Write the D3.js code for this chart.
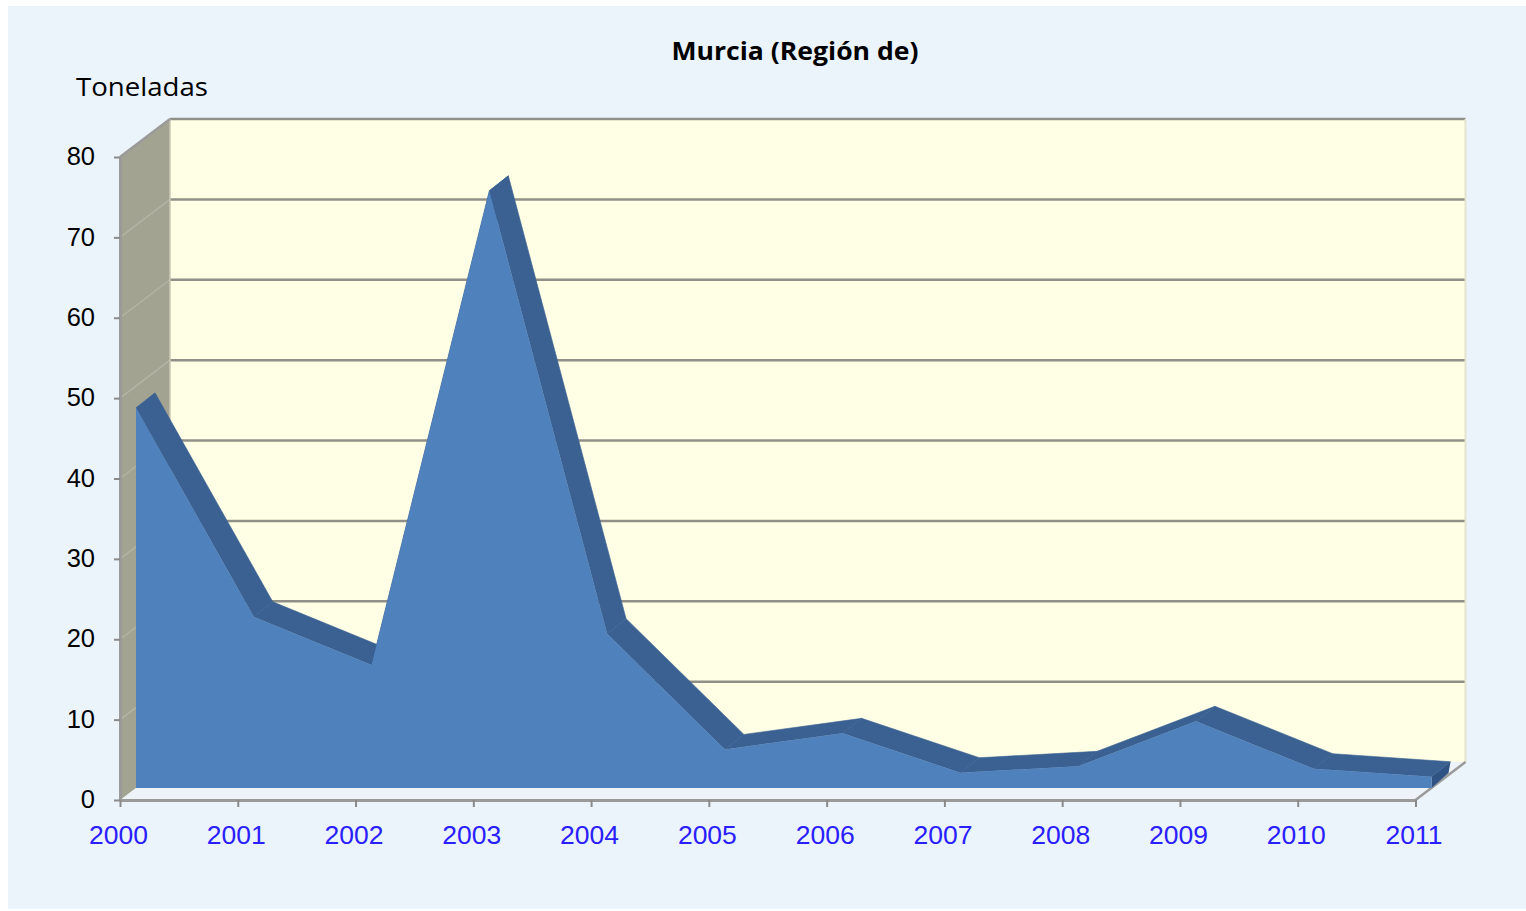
<!DOCTYPE html>
<html><head><meta charset="utf-8">
<script src="https://cdnjs.cloudflare.com/ajax/libs/d3/7.8.5/d3.min.js"></script>
<style>html,body{margin:0;padding:0;background:#fff}svg{display:block}</style></head>
<body><svg id="c" width="1526" height="911"></svg>
<script>
const years = [2000,2001,2002,2003,2004,2005,2006,2007,2008,2009,2010,2011];
const tons = [47.3,21.3,15.3,74.3,19.2,4.8,6.8,1.9,2.7,8.3,2.4,1.4];
const yTicks = [0,10,20,30,40,50,60,70,80];
const title = "Murcia (Región de)";
const yTitle = "Toneladas";

const svg = d3.select("#c");
const x = d3.scaleLinear().domain([2000,2011]).range([120,1415.5]);
const y = d3.scaleLinear().domain([0,80]).range([800,157]);
const wall = {dx:50, dy:-38};      // depth of the whole box
const face = {dx:16, dy:-12};      // front of the area
const back = {dx:35, dy:-27};      // rear of the area
const X0 = x(2000), X1 = x(2011), Y0 = y(0), Y1 = y(80);
const poly = p => "M" + p.map(d => d.join(",")).join("L") + "Z";

svg.append("rect").attr("x",8).attr("y",6).attr("width",1518).attr("height",903).attr("fill","#ebf4fb");

// back wall
svg.append("rect").attr("x",X0+wall.dx).attr("y",Y1+wall.dy)
  .attr("width",X1-X0).attr("height",Y0-Y1)
  .attr("fill","#ffffe6");
// floor
svg.append("path").attr("d",poly([[X0,Y0],[X1,Y0],[X1+wall.dx,Y0+wall.dy],[X0+wall.dx,Y0+wall.dy]]))
  .attr("fill","#eef3f9");
// side wall
svg.append("path").attr("d",poly([[X0,Y1],[X0+wall.dx,Y1+wall.dy],[X0+wall.dx,Y0+wall.dy],[X0,Y0]]))
  .attr("fill","#a3a392");

// gridlines
const gridG = svg.append("g");
gridG.selectAll("line.side").data(yTicks.slice(1,-1)).join("line").attr("class","side")
  .attr("x1",X0).attr("x2",X0+wall.dx)
  .attr("y1",d=>y(d)).attr("y2",d=>y(d)+wall.dy)
  .attr("stroke","#b4b4a6").attr("stroke-width",1.5);
gridG.selectAll("line.back").data(yTicks.slice(1)).join("line").attr("class","back")
  .attr("x1",X0+wall.dx).attr("x2",X1+wall.dx)
  .attr("y1",d=>y(d)+wall.dy).attr("y2",d=>y(d)+wall.dy)
  .attr("stroke","#8f9088").attr("stroke-width",2.5);
// box edges
svg.append("line").attr("x1",X1+wall.dx).attr("x2",X1+wall.dx)
  .attr("y1",Y1+wall.dy).attr("y2",Y0+wall.dy).attr("stroke","#e4e4cf").attr("stroke-width",2);
svg.append("line").attr("x1",X0+wall.dx).attr("x2",X0+wall.dx)
  .attr("y1",Y1+wall.dy).attr("y2",Y0+wall.dy).attr("stroke","#c8c8b4").attr("stroke-width",1.5);
svg.append("line").attr("x1",X0).attr("x2",X0+wall.dx)
  .attr("y1",Y1).attr("y2",Y1+wall.dy).attr("stroke","#9a9a9a").attr("stroke-width",2.5);
svg.append("line").attr("x1",X1).attr("x2",X1+wall.dx)
  .attr("y1",Y0).attr("y2",Y0+wall.dy).attr("stroke","#9a9a9a").attr("stroke-width",2.5);

// top band of the area
const rows = years.map((yr,i)=>({yr,v:tons[i]}));
svg.append("g").selectAll("path").data(d3.pairs(rows)).join("path")
  .attr("d",([a,b])=>poly([
    [x(a.yr)+face.dx,y(a.v)+face.dy],[x(b.yr)+face.dx,y(b.v)+face.dy],
    [x(b.yr)+back.dx,y(b.v)+back.dy],[x(a.yr)+back.dx,y(a.v)+back.dy]]))
  .attr("fill","#3a6192").attr("stroke","#3a6192").attr("stroke-width",.6);

// right end of the area
const last = rows[rows.length-1];
svg.append("path").attr("d",poly([
    [x(last.yr)+face.dx,y(last.v)+face.dy],[x(last.yr)+back.dx,y(last.v)+back.dy],
    [x(last.yr)+back.dx-2,y(0)+back.dy],[x(last.yr)+face.dx,y(0)+face.dy]]))
  .attr("fill","#2f5483");

// front face of the area
svg.append("path").datum(rows)
  .attr("d",d3.area().x(d=>x(d.yr)+face.dx).y0(y(0)+face.dy).y1(d=>y(d.v)+face.dy))
  .attr("fill","#4f81bd");

// axes
const axisStyle = g => {
  g.selectAll("path.domain").attr("stroke","#9a9a9a").attr("stroke-width",3);
  g.selectAll(".tick line").attr("stroke","#8a8a8a").attr("stroke-width",2);
  g.selectAll("text").attr("font-family","'Liberation Sans',Arial,sans-serif");
};
svg.append("g").attr("transform",`translate(${X0},0)`)
  .call(d3.axisLeft(y).tickValues(yTicks).tickSize(6).tickSizeOuter(0).tickPadding(19))
  .call(axisStyle)
  .call(g=>g.selectAll("text").attr("font-size",25.5).attr("fill","#000").attr("dy","0.3em"));
svg.append("g").attr("transform",`translate(0,${Y0})`)
  .call(d3.axisBottom(x).tickValues(years).tickFormat(d3.format("d")).tickSize(7).tickSizeOuter(0).tickPadding(18))
  .call(axisStyle)
  .call(g=>g.selectAll("text").attr("font-size",26.5).attr("fill","#2a20ff").attr("dx",-2));

// titles
svg.append("text").attr("x",795).attr("y",60).attr("text-anchor","middle")
  .attr("font-family","'Open Sans',sans-serif").attr("font-weight",700).attr("font-size",25)
  .attr("textLength",247).attr("lengthAdjust","spacingAndGlyphs").attr("fill","#000").text(title);
svg.append("text").attr("x",76).attr("y",96)
  .attr("font-family","'Open Sans',sans-serif").attr("font-size",26)
  .attr("textLength",132).attr("lengthAdjust","spacingAndGlyphs").attr("fill","#000").text(yTitle);
</script></body></html>
